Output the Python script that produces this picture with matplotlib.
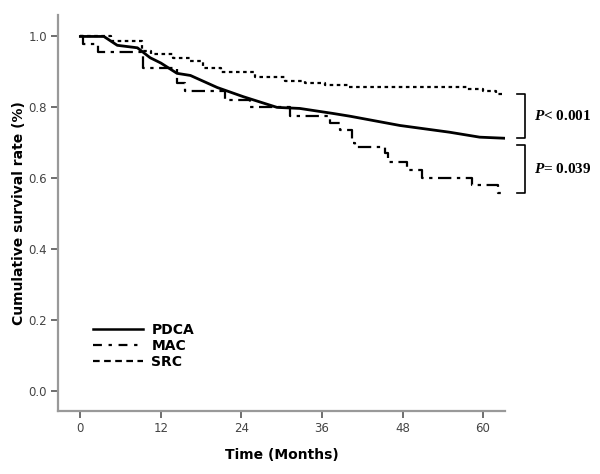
import matplotlib
matplotlib.use("Agg")
import matplotlib.pyplot as plt
from matplotlib.lines import Line2D

plt.rcParams['mathtext.fontset'] = 'custom'
plt.rcParams['mathtext.it'] = 'Liberation Serif:italic:bold'
plt.rcParams['mathtext.rm'] = 'Liberation Serif:bold'

# survival curves (months, cumulative survival)
pdca_t = [0, 3.5, 5.5, 8.5, 10.4, 12, 14.4, 16.4, 20.4, 24.3, 29.3, 32.7, 37.6, 40.2, 47.6, 55, 59.5, 63.2]
pdca_s = [1.0, 1.0, 0.975, 0.968, 0.94, 0.925, 0.896, 0.89, 0.856, 0.83, 0.80, 0.797, 0.783, 0.775, 0.749, 0.73, 0.716, 0.713]

mac_t = [0, 0.4, 2.7, 9.3, 14.4, 15.6, 21.6, 25.3, 31.2, 37.2, 38.7, 40.5, 40.9, 45.4, 45.9, 48.6, 50.9, 58.3, 62.2, 63.2]
mac_s = [1.0, 0.98, 0.955, 0.91, 0.87, 0.845, 0.822, 0.80, 0.777, 0.755, 0.735, 0.70, 0.687, 0.67, 0.645, 0.623, 0.60, 0.58, 0.558, 0.558]

src_t = [0, 4.5, 9.2, 10.5, 13.8, 16.4, 18.3, 21, 26, 30.5, 33.5, 36.5, 40, 57.6, 60, 62, 63.2]
src_s = [1.0, 0.986, 0.96, 0.95, 0.94, 0.932, 0.91, 0.899, 0.885, 0.873, 0.868, 0.862, 0.857, 0.853, 0.845, 0.837, 0.837]

groups = ["PDCA", "MAC", "SRC"]
p_values = ["< 0.001", "= 0.039"]
x_ticks = [0, 12, 24, 36, 48, 60]
y_ticks = [0.0, 0.2, 0.4, 0.6, 0.8, 1.0]

fig = plt.figure(figsize=(6, 4.74), dpi=100)
ax = fig.add_axes([0.097, 0.133, 0.745, 0.835])

# PDCA is a large group: its many small steps read as a nearly smooth line
ax.plot(pdca_t, pdca_s, color='black', lw=2.0)
ax.step(mac_t, mac_s, where='post', color='black', lw=1.6, dashes=(6, 2.5, 1.5, 2.5))
ax.step(src_t, src_s, where='post', color='black', lw=1.6, dashes=(1.6, 1.6))

ax.set_xlim(-3.3, 63.3)
ax.set_ylim(-0.056, 1.06)
ax.set_xticks(x_ticks)
ax.set_yticks(y_ticks)
ax.set_yticklabels([f"{v:.1f}" for v in y_ticks])

for s in ['top', 'right']:
    ax.spines[s].set_visible(False)
for s in ['left', 'bottom']:
    ax.spines[s].set_color('#999999')
    ax.spines[s].set_linewidth(1.6)
ax.tick_params(direction='out', length=5, width=1.2, color='#555555',
               labelcolor='#444444', labelsize=8.5, pad=3)

ax.set_xlabel("Time (Months)", fontsize=10, fontweight='bold', labelpad=9)
ax.set_ylabel("Cumulative survival rate (%)", fontsize=10, fontweight='bold', labelpad=2)

# legend
handles = [Line2D([], [], color='black', lw=1.8),
           Line2D([], [], color='black', lw=1.6, dashes=(4, 3, 1.5, 3)),
           Line2D([], [], color='black', lw=1.6, dashes=(3, 2))]
ax.legend(handles, groups, loc='lower left', bbox_to_anchor=(0.05, 0.075), frameon=False,
          prop={'weight': 'bold', 'size': 10}, handlelength=3.6, handletextpad=0.6,
          labelspacing=0.15)

# p-value brackets
x0, x1 = 65.0, 66.2
brackets = [(src_s[-1], pdca_s[-1]), (pdca_s[-1] - 0.02, mac_s[-1])]
for (top, bot), p in zip(brackets, p_values):
    ax.plot([x0, x1, x1, x0], [top, top, bot, bot], color='black', lw=1.2, clip_on=False)
    ax.text(67.6, (top + bot) / 2, r"$P$" + p, fontsize=11, fontweight='bold',
            family='Liberation Serif', va='center', ha='left', clip_on=False)

fig.savefig("out.png", dpi=100)
